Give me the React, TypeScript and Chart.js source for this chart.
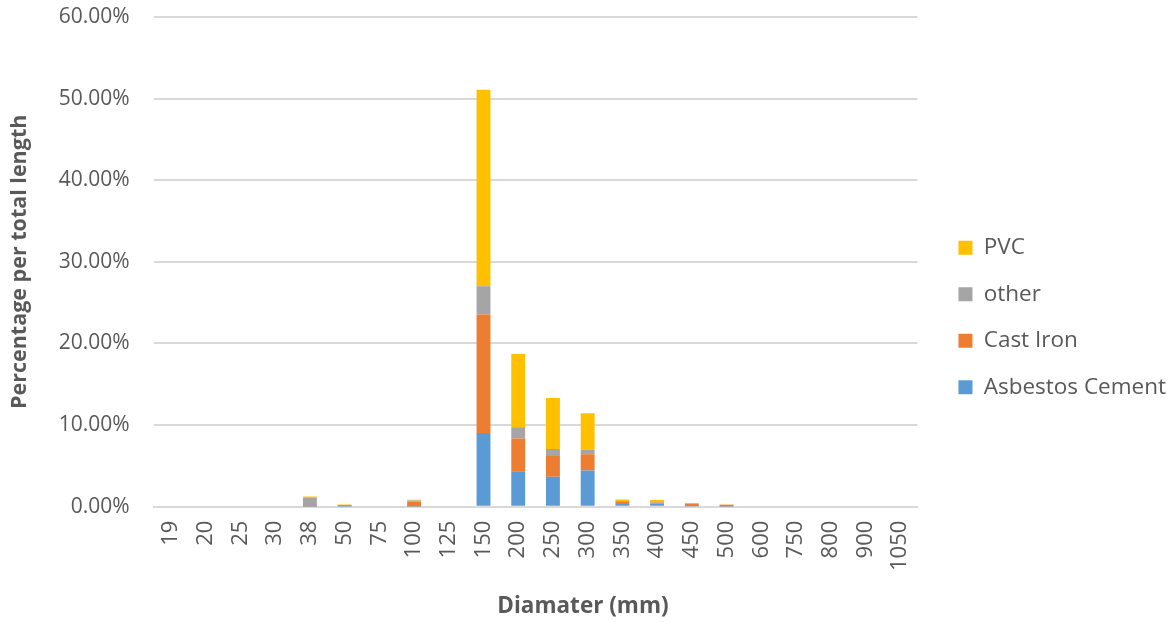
import React, { useEffect, useRef } from "react";
import { Chart, registerables } from "chart.js";

Chart.register(...registerables);

// Pipe diameters (mm)
const diameters = [
  "19", "20", "25", "30", "38", "50", "75", "100", "125", "150", "200",
  "250", "300", "350", "400", "450", "500", "600", "750", "800", "900", "1050",
];

// Share of total network length (%) by material
const asbestosCement = [0, 0, 0, 0, 0.03, 0.02, 0, 0.03, 0, 9.03, 4.33, 3.68, 4.42, 0.33, 0.4, 0.05, 0.03, 0, 0, 0, 0, 0];
const castIron = [0, 0, 0, 0, 0.05, 0, 0, 0.6, 0, 14.53, 4.01, 2.53, 2.0, 0.33, 0.12, 0.3, 0.2, 0, 0, 0, 0, 0];
const other = [0, 0, 0, 0, 1.05, 0.2, 0, 0.12, 0, 3.44, 1.39, 0.86, 0.57, 0.05, 0.05, 0.05, 0.02, 0, 0, 0, 0, 0];
const pvc = [0, 0, 0, 0, 0.12, 0.06, 0, 0.1, 0, 24.1, 8.99, 6.26, 4.46, 0.16, 0.25, 0.05, 0.03, 0, 0, 0, 0, 0];

const yMax = 60;
const yStep = 10;

const TEXT = "#595959";
const GRID = "#d9d9d9";
const FONT = "'Open Sans', 'DejaVu Sans', sans-serif";

// nudges the legend column away from the plot area
const blockOffsets = {
  id: "blockOffsets",
  afterLayout(chart: any) {
    const lg = chart.legend;
    if (lg) {
      lg.left += 17;
      lg.right += 17;
      lg.top -= 2;
      lg.bottom -= 2;
    }
  },
};

export default function App() {
  const ref = useRef<HTMLCanvasElement | null>(null);

  useEffect(() => {
    document.body.style.margin = "0";
    const ctx = ref.current;
    if (!ctx) return;
    const chart = new Chart(ctx, {
      type: "bar",
      data: {
        labels: diameters,
        datasets: [
          { label: "Asbestos Cement", data: asbestosCement, backgroundColor: "#5B9BD5" },
          { label: "Cast Iron", data: castIron, backgroundColor: "#ED7D31" },
          { label: "other", data: other, backgroundColor: "#A5A5A5" },
          { label: "PVC", data: pvc, backgroundColor: "#FFC000" },
        ],
      },
      options: {
        animation: false,
        responsive: false,
        maintainAspectRatio: false,
        layout: { padding: { left: 7, right: 12, top: 17, bottom: 0 } },
        datasets: {
          bar: { categoryPercentage: 1, barPercentage: 0.4 },
        },
        scales: {
          x: {
            stacked: true,
            grid: { display: false, drawTicks: false },
            border: { display: true, color: GRID, width: 2 },
            ticks: {
              color: TEXT,
              font: { family: FONT, size: 22 },
              minRotation: 90,
              maxRotation: 90,
              autoSkip: false,
              padding: 14,
            },
          },
          y: {
            stacked: true,
            min: 0,
            max: yMax,
            grid: {
              color: GRID,
              lineWidth: 2,
              drawTicks: true,
              tickLength: 20,
              tickColor: "rgba(0,0,0,0)",
            },
            border: { display: false },
            ticks: {
              stepSize: yStep,
              color: TEXT,
              font: { family: FONT, size: 21 },
              padding: 4,
              callback: (v: any) => Number(v).toFixed(2) + "%",
            },
            title: {
              display: true,
              text: "Percentage per total length",
              color: TEXT,
              font: { family: FONT, size: 21.5, weight: "bold" },
              padding: { top: 0, bottom: 22 },
            },
          },
        },
        plugins: {
          legend: {
            position: "right",
            reverse: true,
            labels: {
              boxWidth: 14,
              boxHeight: 14,
              padding: 24,
              color: TEXT,
              font: { family: FONT, size: 22.5 },
            },
          },
          title: {
            display: true,
            position: "bottom",
            text: "Diamater (mm)",
            color: TEXT,
            font: { family: FONT, size: 22.5, weight: "bold" },
            padding: { top: 8, bottom: 2 },
          },
          tooltip: { enabled: false },
        },
      },
      plugins: [blockOffsets],
    });
    return () => chart.destroy();
  }, []);

  return (
    <div style={{ width: 1171, height: 622, background: "#fff" }}>
      <canvas ref={ref} width={1171} height={622} />
    </div>
  );
}
